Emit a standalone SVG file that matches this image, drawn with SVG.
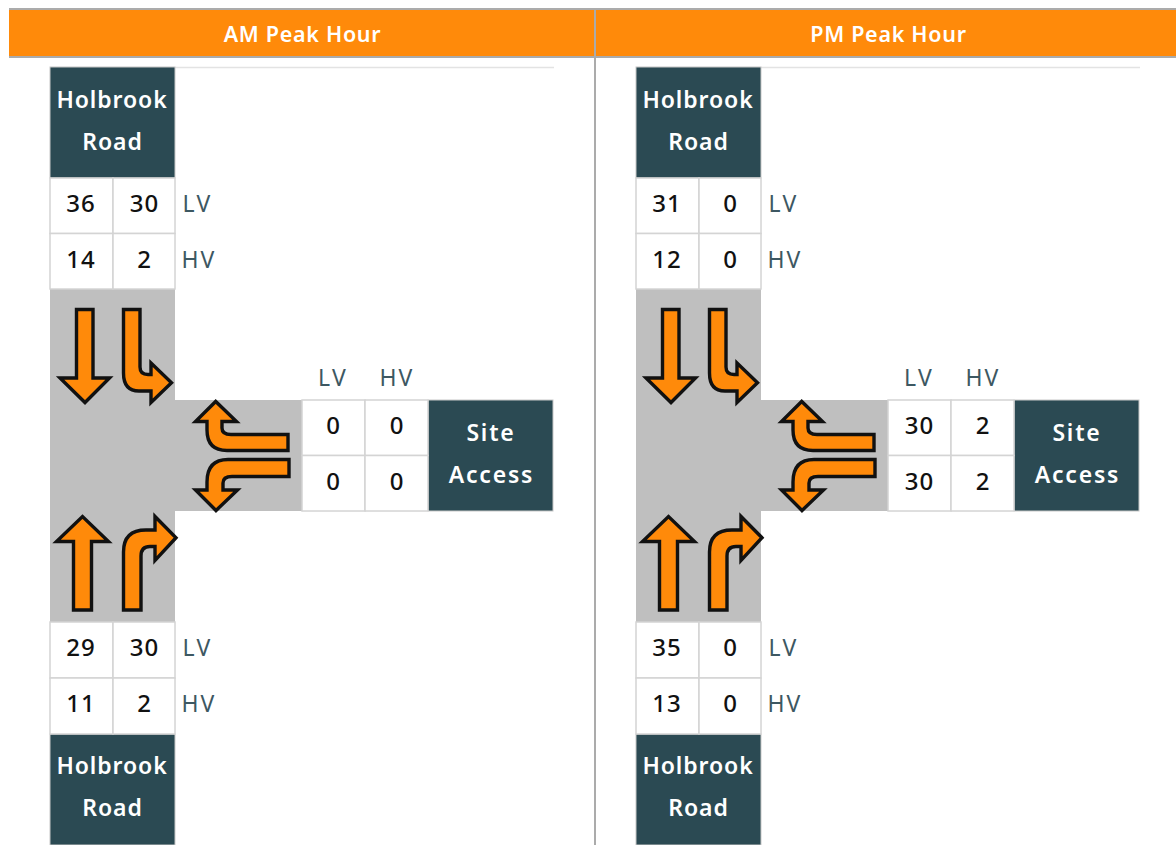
<svg xmlns="http://www.w3.org/2000/svg" width="1176" height="845" viewBox="0 0 1176 845">
<style>
text{font-family:"Noto Sans","Liberation Sans",sans-serif;text-anchor:middle}
.h{font-size:21.500px;font-weight:600;fill:#fff;letter-spacing:.7px}
.r{font-size:23px;font-weight:600;fill:#fff;letter-spacing:.9px}
.w{letter-spacing:1.800px}
.n{font-size:24px;font-weight:500;fill:#111;letter-spacing:1px}
.l{font-size:23px;fill:#3d5862;letter-spacing:2.200px}
.c{fill:#fff;stroke:#d4d4d4;stroke-width:1.500}
.b{fill:#2b4a53;stroke:#c8c8c8;stroke-width:1}
.a{fill:#ff8a0a;stroke:#111;stroke-width:3.400;stroke-linejoin:miter;stroke-miterlimit:6}
</style>
<defs>
<g id="arrows">
<path class="a" d="M76.500 309.500H93V378H109.500L85 402.500L60 378H76.500Z"/>
<path class="a" d="M123.500 309.500H140V367Q140 374.500 148 374.500H151V363L171.500 382.700L151 402.500V391H139Q123.500 391 123.500 373Z"/>
<path class="a" d="M288 434.500H231Q222 434.500 222 428V421.500H236.500L215.700 401.500L195.500 421.500H207V430Q207 450.500 227 450.500H288Z"/>
<path class="a" d="M289 459.500V476.500H232Q223 476.500 223 483V490H237.500L216 510.500L195.500 490H207V482Q207 459.500 228 459.500Z"/>
<path class="a" d="M73.500 610V541.500H56.500L82.500 516.500L108.500 541.500H91.500V610Z"/>
<path class="a" d="M123.500 610V552Q123.500 530 146 530H155V516.500L176 537.700L155 560.500V546.500H150Q141 546.500 141 556V610Z"/>
</g>
<g id="base">
<path d="M50 67.500H554" fill="none" stroke="#e3e3e3" stroke-width="1.500"/>
<path d="M50 289H175V400H302V511H175V622H50Z" fill="#bfbfbf"/>
<rect class="b" x="50" y="67" width="125" height="111"/>
<rect class="b" x="50" y="734" width="125" height="111"/>
<rect class="b" x="428" y="400" width="125" height="111"/>
<rect class="c" x="50" y="178" width="63" height="55.500"/><rect class="c" x="113" y="178" width="62" height="55.500"/>
<rect class="c" x="50" y="233.500" width="63" height="55.500"/><rect class="c" x="113" y="233.500" width="62" height="55.500"/>
<rect class="c" x="50" y="622" width="63" height="56"/><rect class="c" x="113" y="622" width="62" height="56"/>
<rect class="c" x="50" y="678" width="63" height="56"/><rect class="c" x="113" y="678" width="62" height="56"/>
<rect class="c" x="302" y="400" width="63" height="55.500"/><rect class="c" x="365" y="400" width="63" height="55.500"/>
<rect class="c" x="302" y="455.500" width="63" height="55.500"/><rect class="c" x="365" y="455.500" width="63" height="55.500"/>
<text class="r" x="112" y="108">Holbrook</text><text class="r" x="112.500" y="150">Road</text>
<text class="r" x="112" y="774">Holbrook</text><text class="r" x="112.500" y="816">Road</text>
<text class="r w" x="491" y="441">Site</text><text class="r w" x="491.500" y="483">Access</text>
<text class="l" x="197.500" y="212">LV</text><text class="l" x="199" y="268">HV</text>
<text class="l" x="197.500" y="656">LV</text><text class="l" x="199" y="712">HV</text>
<text class="l" x="333" y="386">LV</text><text class="l" x="397" y="386">HV</text>
</g>
</defs>
<g id="header">
<rect x="9" y="8" width="1167" height="50" fill="#ff8a0a"/>
<path d="M9 9H1176M9 57H1176" stroke="#ababab" stroke-width="2"/>
<path d="M595 8V845" stroke="#ababab" stroke-width="2"/>
<text class="h" x="302.500" y="41.500">AM Peak Hour</text>
<text class="h" x="888.500" y="41.500">PM Peak Hour</text>
</g>
<g id="am-base"><use href="#base"/></g>
<g id="connectors-am"><use href="#arrows"/></g>
<g id="am-values">
<text class="n" x="81" y="212">36</text><text class="n" x="144.500" y="212">30</text>
<text class="n" x="81" y="268">14</text><text class="n" x="144.500" y="268">2</text>
<text class="n" x="81" y="656">29</text><text class="n" x="144.500" y="656">30</text>
<text class="n" x="81" y="712">11</text><text class="n" x="144.500" y="712">2</text>
<text class="n" x="333.500" y="434">0</text><text class="n" x="397" y="434">0</text>
<text class="n" x="333.500" y="490">0</text><text class="n" x="397" y="490">0</text>
</g>
<g id="pm-base" transform="translate(586 0)"><use href="#base"/></g>
<g id="connectors-pm" transform="translate(586 0)"><use href="#arrows"/></g>
<g id="pm-values" transform="translate(586 0)">
<text class="n" x="81" y="212">31</text><text class="n" x="144.500" y="212">0</text>
<text class="n" x="81" y="268">12</text><text class="n" x="144.500" y="268">0</text>
<text class="n" x="81" y="656">35</text><text class="n" x="144.500" y="656">0</text>
<text class="n" x="81" y="712">13</text><text class="n" x="144.500" y="712">0</text>
<text class="n" x="333.500" y="434">30</text><text class="n" x="397" y="434">2</text>
<text class="n" x="333.500" y="490">30</text><text class="n" x="397" y="490">2</text>
</g>
</svg>
